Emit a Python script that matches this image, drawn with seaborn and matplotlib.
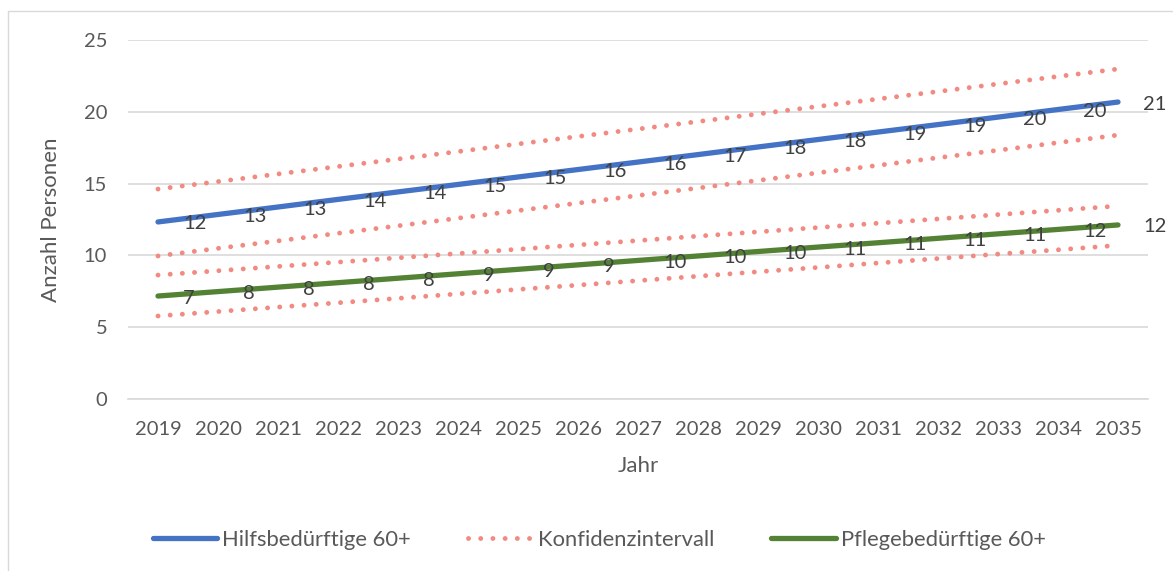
import matplotlib
matplotlib.use("Agg")
import matplotlib.pyplot as plt
import seaborn as sns
import pandas as pd
from matplotlib.patches import Rectangle
from matplotlib.lines import Line2D

years = [str(y) for y in range(2019, 2036)]
hilfs = [12.33, 12.85, 13.37, 13.90, 14.42, 14.94, 15.46, 15.98, 16.50, 17.02, 17.55, 18.07, 18.59, 19.11, 19.63, 20.16, 20.68]
hilfs_upper = [14.62, 15.14, 15.67, 16.19, 16.71, 17.23, 17.76, 18.28, 18.80, 19.32, 19.85, 20.37, 20.89, 21.41, 21.94, 22.46, 22.98]
hilfs_lower = [9.96, 10.49, 11.01, 11.54, 12.06, 12.59, 13.12, 13.64, 14.17, 14.69, 15.22, 15.75, 16.27, 16.80, 17.32, 17.85, 18.38]
pflege = [7.17, 7.48, 7.79, 8.10, 8.41, 8.72, 9.03, 9.34, 9.65, 9.96, 10.27, 10.58, 10.88, 11.19, 11.50, 11.81, 12.12]
pflege_upper = [8.63, 8.93, 9.23, 9.53, 9.83, 10.13, 10.43, 10.73, 11.03, 11.34, 11.64, 11.94, 12.24, 12.54, 12.84, 13.14, 13.44]
pflege_lower = [5.78, 6.09, 6.40, 6.70, 7.01, 7.32, 7.63, 7.93, 8.24, 8.55, 8.86, 9.16, 9.47, 9.78, 10.09, 10.39, 10.70]
hilfs_labels = [12, 13, 13, 14, 14, 15, 15, 16, 16, 17, 18, 18, 19, 19, 20, 20, 21]
pflege_labels = [7, 8, 8, 8, 8, 9, 9, 9, 10, 10, 10, 11, 11, 11, 11, 12, 12]
yticks = [0, 5, 10, 15, 20, 25]

BLUE = "#4472C4"
GREEN = "#548235"
SALMON = "#F28A82"
TXT = "#595959"

sns.set_theme(style="white")
plt.rcParams["font.family"] = ["Lato", "DejaVu Sans"]

fig = plt.figure(figsize=(11.73, 5.71), dpi=100)
ax = fig.add_axes([128 / 1173, 1 - 399 / 571, 1020 / 1173, 359 / 571])

df = pd.DataFrame({
    "x": list(range(len(years))),
    "hilfs": hilfs, "hu": hilfs_upper, "hl": hilfs_lower,
    "pflege": pflege, "pu": pflege_upper, "pl": pflege_lower,
})

dot_kw = dict(color=SALMON, linewidth=3.5, linestyle=(0, (0.01, 2.5)),
              dash_capstyle="round")
for col in ["hu", "hl", "pu", "pl"]:
    sns.lineplot(data=df, x="x", y=col, ax=ax, **dot_kw)
sns.lineplot(data=df, x="x", y="hilfs", ax=ax, color=BLUE, linewidth=3.8,
             solid_capstyle="round")
sns.lineplot(data=df, x="x", y="pflege", ax=ax, color=GREEN, linewidth=3.8,
             solid_capstyle="round")

for vals, labs in [(hilfs, hilfs_labels), (pflege, pflege_labels)]:
    for i, (v, lab) in enumerate(zip(vals, labs)):
        ax.annotate(str(lab), (i, v), xytext=(25, -2), textcoords="offset pixels",
                    ha="left", va="center", fontsize=14.5, color="#404040",
                    annotation_clip=False)

ax.set_xlim(-0.5, len(years) - 0.5)
ax.set_ylim(0, 25)
ax.set_yticks(yticks)
ax.set_yticklabels([str(t) for t in yticks])
ax.set_xticks(range(len(years)))
ax.set_xticklabels(years)
ax.yaxis.grid(True, color="#D9D9D9", linewidth=1.2)
ax.xaxis.grid(False)
for s in ["top", "right", "left"]:
    ax.spines[s].set_visible(False)
ax.spines["bottom"].set_color("#D9D9D9")
ax.spines["bottom"].set_linewidth(1.2)
ax.tick_params(axis="both", length=0, labelsize=14.5, colors=TXT)
ax.tick_params(axis="y", pad=15)
ax.tick_params(axis="x", pad=16)
ax.set_xlabel("Jahr", fontsize=16, color=TXT, labelpad=13)
ax.set_ylabel("Anzahl Personen", fontsize=16, color=TXT, labelpad=16)

handles = [
    Line2D([], [], color=BLUE, linewidth=3.8, solid_capstyle="round"),
    Line2D([], [], **dot_kw),
    Line2D([], [], color=GREEN, linewidth=3.8, solid_capstyle="round"),
]
fig.legend(handles, ["Hilfsbedürftige 60+", "Konfidenzintervall", "Pflegebedürftige 60+"],
           loc="center", bbox_to_anchor=(0.511, 1 - 540 / 571), ncol=3, frameon=False,
           fontsize=15.8, handlelength=2.95, handletextpad=0.23, columnspacing=2.6,
           labelcolor=TXT)

# chart-area border: only the top and left edges fall inside the image
fig.add_artist(Line2D([8 / 1173, 8 / 1173], [0, 1 - 11 / 571], transform=fig.transFigure,
                      color="#D9D9D9", linewidth=1.0))
fig.add_artist(Line2D([8 / 1173, 1], [1 - 11 / 571, 1 - 11 / 571], transform=fig.transFigure,
                      color="#D9D9D9", linewidth=1.0))

fig.savefig("out.png", dpi=100)
